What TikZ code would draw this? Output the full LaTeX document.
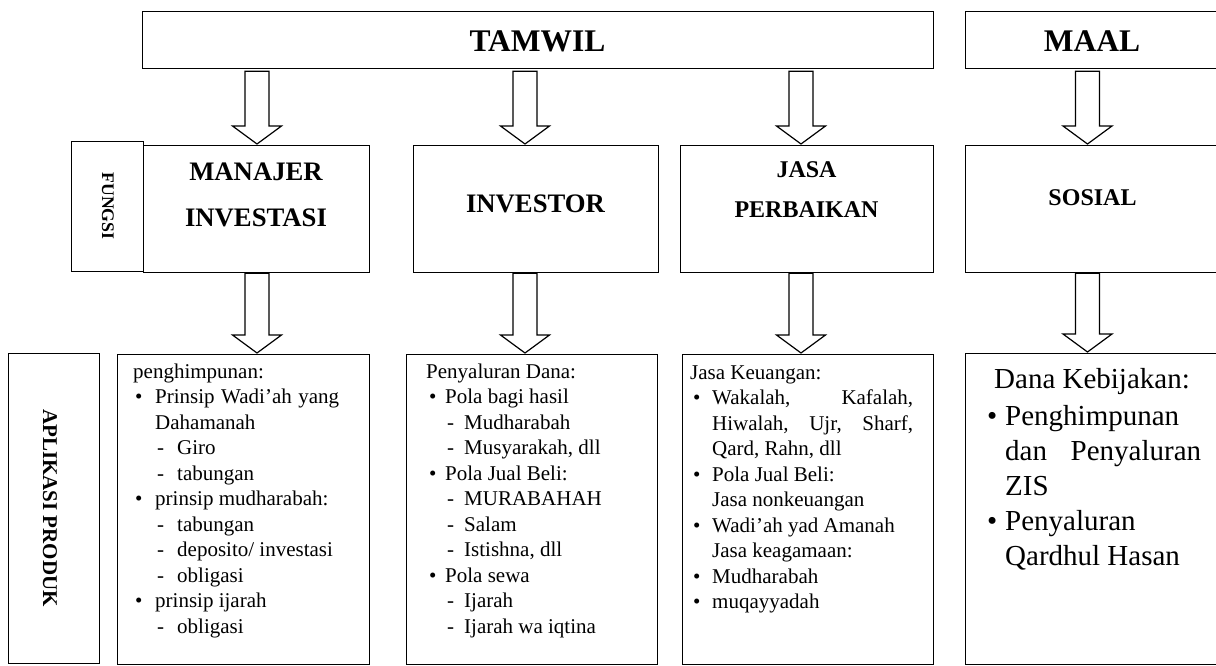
\documentclass[tikz,border=0pt]{standalone}
\usepackage{fontspec}
\setmainfont{Liberation Serif}
\usetikzlibrary{calc}

% indents used by the bulleted lists
\newlength\lsbi \newlength\lsti \newlength\lsdi \newlength\lssi
\newcommand\lsbul{\hspace*{\lsbi}\makebox[\dimexpr\lsti-\lsbi\relax][l]{\textbullet}}
\newcommand\lscont{\hspace*{\lsti}}
\newcommand\lsdash{\hspace*{\lsdi}\makebox[\dimexpr\lssi-\lsdi\relax][l]{-}}

% hollow block arrow: #1 x, #2 source node, #3 target node, #4 gap below source
\newcommand\blockarr[4]{%
  \draw[blockarrow] let \p1=(#2.south), \p2=(#3.north) in
    ({#1-12pt},{\y1-#4}) -- ({#1+12pt},{\y1-#4}) -- ({#1+12pt},{\y2+19pt})
    -- ({#1+24.5pt},{\y2+19pt}) -- (#1,{\y2+1pt}) -- ({#1-24.5pt},{\y2+19pt})
    -- ({#1-12pt},{\y2+19pt}) -- cycle;}

\tikzset{
  box/.style={draw, line width=1.3pt, inner sep=0pt, anchor=north west},
  blockarrow/.style={draw, line width=1.2pt, fill=white, line join=miter},
  bighead/.style={font=\bfseries\fontsize{31.5}{36}\selectfont, anchor=base, inner sep=0pt},
  midhead/.style={font=\bfseries\fontsize{26.7}{30}\selectfont, anchor=base, inner sep=0pt},
  smallhead/.style={font=\bfseries\fontsize{24}{28}\selectfont, anchor=base, inner sep=0pt},
  listtext/.style={font=\fontsize{21}{25.5}\selectfont, anchor=base west, inner sep=0pt},
  bigtext/.style={font=\fontsize{29}{35}\selectfont, anchor=base west, inner sep=0pt},
}

\begin{document}
\begin{tikzpicture}[x=1pt, y=-1pt]
\useasboundingbox (0,0) rectangle (1216,666);
\fill[white] (0,0) rectangle (1216,666);
\clip (0,0) rectangle (1216,666);

% top row
\node[box, minimum width=791pt, minimum height=57pt] (tamwil) at (142,11) {};
\node[box, minimum width=265pt, minimum height=57pt] (maal) at (965,11) {};
\node[bighead] (tTamwil) at (537.5,52) {TAMWIL};
\node[bighead] (tMaal) at (1092,52) {MAAL};

% functions row
\node[box, line width=1pt, minimum width=72pt, minimum height=130pt] (fungsi) at (71,141) {};
\node[box, minimum width=226pt, minimum height=127pt] (mi) at (143,145) {};
\node[box, minimum width=245pt, minimum height=127pt] (inv) at (413,145) {};
\node[box, minimum width=253pt, minimum height=127pt] (jasa) at (680,145) {};
\node[box, minimum width=265pt, minimum height=127pt] (sos) at (965,145) {};

\node[font=\bfseries\fontsize{17.7}{20}\selectfont, rotate=-90, inner sep=0pt] (tFungsi) at (108,206) {FUNGSI};
\node[midhead] (tMi1) at (256,180) {MANAJER};
\node[midhead] (tMi2) at (256,226) {INVESTASI};
\node[midhead] (tInv) at (535.5,212) {INVESTOR};
\node[smallhead] (tJasa1) at (806.5,178) {JASA};
\node[smallhead] (tJasa2) at (806.5,218) {PERBAIKAN};
\node[smallhead] (tSos) at (1092.5,205) {SOSIAL};

% products row
\node[box, minimum width=91pt, minimum height=310pt] (aplikasi) at (8,353) {};
\node[box, minimum width=252pt, minimum height=310pt] (l1) at (117,354) {};
\node[box, minimum width=251pt, minimum height=310pt] (l2) at (406,354) {};
\node[box, minimum width=251pt, minimum height=310pt] (l3) at (682,354) {};
\node[box, minimum width=265pt, minimum height=311pt] (l4) at (965,353) {};

\node[font=\bfseries\fontsize{21}{24}\selectfont, rotate=-90, inner sep=0pt] (tAplikasi) at (50,508) {APLIKASI PRODUK};

\node[listtext] (l1t) at (133,378) {\setlength\lsbi{2pt}\setlength\lsti{22pt}\setlength\lsdi{24pt}\setlength\lssi{44pt}%
\parbox[t]{230pt}{penghimpunan:\\
\lsbul\makebox[184pt][s]{Prinsip Wadi’ah yang}\\
\lscont Dahamanah\\
\lsdash Giro\\
\lsdash tabungan\\
\lsbul prinsip mudharabah:\\
\lsdash tabungan\\
\lsdash deposito/ investasi\\
\lsdash obligasi\\
\lsbul prinsip ijarah\\
\lsdash obligasi}};

\node[listtext] (l2t) at (426,378) {\setlength\lsbi{3pt}\setlength\lsti{19pt}\setlength\lsdi{21pt}\setlength\lssi{38pt}%
\parbox[t]{225pt}{Penyaluran Dana:\\
\lsbul Pola bagi hasil\\
\lsdash Mudharabah\\
\lsdash Musyarakah, dll\\
\lsbul Pola Jual Beli:\\
\lsdash MURABAHAH\\
\lsdash Salam\\
\lsdash Istishna, dll\\
\lsbul Pola sewa\\
\lsdash Ijarah\\
\lsdash Ijarah wa iqtina}};

\node[listtext] (l3t) at (690,379) {\setlength\lsbi{3pt}\setlength\lsti{22pt}%
\parbox[t]{235pt}{Jasa Keuangan:\\
\lsbul\makebox[201pt][s]{Wakalah, Kafalah,}\\
\lscont\makebox[201pt][s]{Hiwalah, Ujr, Sharf,}\\
\lscont Qard, Rahn, dll\\
\lsbul Pola Jual Beli:\\
\lscont Jasa nonkeuangan\\
\lsbul Wadi’ah yad Amanah\\
\lscont Jasa keagamaan:\\
\lsbul Mudharabah\\
\lsbul muqayyadah}};

\node[bigtext] (l4t) at (987,388) {\setlength\lsbi{0pt}\setlength\lsti{18pt}%
\parbox[t]{240pt}{\hspace*{7pt}Dana Kebijakan:\\[2pt]
\lsbul Penghimpunan\\
\lscont\makebox[196pt][s]{dan Penyaluran}\\
\lscont ZIS\\
\lsbul Penyaluran\\
\lscont Qardhul Hasan}};

% arrows from the two top boxes to the functions
\blockarr{257pt}{tamwil}{mi}{2pt}
\blockarr{525pt}{tamwil}{inv}{2pt}
\blockarr{801pt}{tamwil}{jasa}{2pt}
\blockarr{1087.5pt}{maal}{sos}{2pt}
% arrows from the functions to the products
\blockarr{257pt}{mi}{l1}{0pt}
\blockarr{525pt}{inv}{l2}{0pt}
\blockarr{801pt}{jasa}{l3}{0pt}
\blockarr{1087.5pt}{sos}{l4}{0pt}
\end{tikzpicture}
\end{document}
